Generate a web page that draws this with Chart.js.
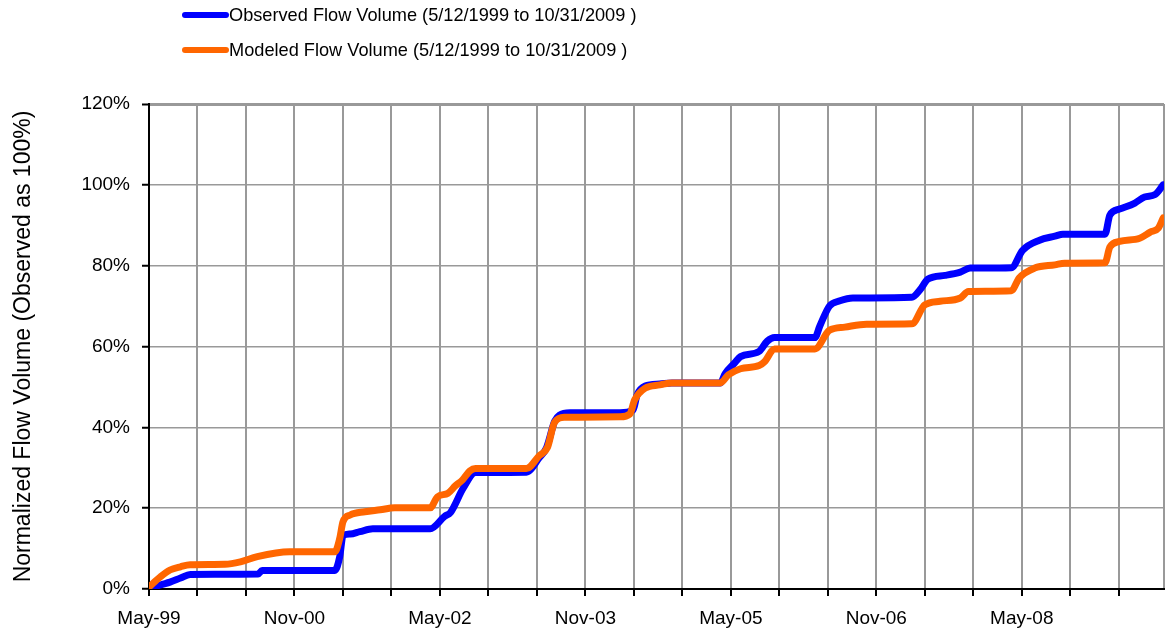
<!DOCTYPE html>
<html>
<head>
<meta charset="utf-8">
<script src="https://cdn.jsdelivr.net/npm/chart.js@4.4.0/dist/chart.umd.min.js"></script>
<style>
  html, body { margin: 0; padding: 0; background: #fff; }
  #wrap { width: 1165px; height: 634px; position: relative; }
</style>
</head>
<body>
<div id="wrap"><canvas id="flow-chart"></canvas></div>
<script>
// x values are months counted from May 1999, y values are % of total observed volume
const obsMonths = [0.1, 1.4, 2.6, 3.9, 5.1, 13.5, 14.0, 23.0, 23.6, 24.0, 24.9, 26.1, 27.7, 34.8,
  36.6, 37.3, 38.9, 40.4, 46.7, 48.3, 49.2, 50.2, 50.8, 52.1, 58.3, 59.9, 60.4, 61.4, 63.2, 64.7,
  70.7, 71.3, 72.5, 73.2, 75.5, 76.5, 77.4, 82.4, 83.0, 84.2, 85.5, 87.1, 94.4, 95.4, 96.4, 98.5,
  100.4, 101.6, 106.7, 108.1, 110.2, 112.1, 113.1, 118.3, 118.9, 120.1, 122.0, 123.2, 124.5, 125.5];
const obsValues = [0, 1.0, 1.7, 2.7, 3.6, 3.7, 4.6, 4.6, 8.0, 13.2, 13.6, 14.2, 14.9, 14.9,
  18.0, 18.9, 25.0, 28.8, 28.9, 32.5, 35.0, 41.5, 43.0, 43.6, 43.6, 44.3, 48.0, 50.2, 50.7, 51.0,
  51.0, 53.3, 56.0, 57.5, 58.8, 61.3, 62.2, 62.2, 65.0, 70.0, 71.3, 72.0, 72.2, 74.0, 76.7, 77.6,
  78.4, 79.4, 79.5, 83.8, 86.3, 87.3, 87.8, 87.8, 92.5, 94.0, 95.5, 97.0, 97.6, 100];

const modMonths = [0.0, 1.4, 2.6, 3.9, 5.1, 9.4, 11.3, 13.4, 17.4, 23.0, 23.6, 24.0, 24.9, 26.7,
  28.6, 30.4, 34.8, 35.7, 37.0, 37.9, 38.8, 39.7, 40.4, 46.7, 48.3, 49.3, 50.2, 51.4, 58.3, 59.5,
  60.1, 61.4, 63.2, 64.7, 70.7, 71.7, 73.2, 75.5, 76.2, 77.4, 82.4, 84.2, 86.1, 88.8, 94.4, 96.0,
  97.9, 100.4, 101.4, 106.7, 107.7, 109.6, 112.1, 113.3, 118.3, 118.9, 120.1, 122.6, 123.9, 124.9, 125.5];
const modValues = [0.5, 3.0, 4.7, 5.5, 6.0, 6.1, 6.7, 8.0, 9.2, 9.2, 12.5, 16.6, 18.3, 19.1,
  19.6, 20.1, 20.1, 22.8, 23.7, 25.5, 27.0, 29.2, 29.8, 29.8, 33.0, 35.0, 41.3, 42.5, 42.6, 43.3,
  46.8, 49.7, 50.5, 51.0, 51.0, 53.0, 54.5, 55.3, 56.3, 59.4, 59.4, 64.0, 64.8, 65.5, 65.6, 70.3,
  71.2, 72.0, 73.6, 73.8, 77.0, 79.4, 80.2, 80.6, 80.7, 84.6, 86.0, 86.8, 88.3, 89.3, 91.8];

const seriesLabels = [
  "Observed Flow Volume (5/12/1999 to 10/31/2009 )",
  "Modeled Flow Volume (5/12/1999 to 10/31/2009 )",
];
const seriesColors = ["#0000FF", "#FF6600"];

// labelled every 18 months, gridlines every 6
const xTickLabels = ["May-99", "Nov-00", "May-02", "Nov-03", "May-05", "Nov-06", "May-08"];
const xGridStep = 6;
const xLabelStep = 18;
const xEnd = 125.6; // end of Oct 2009
const yTicks = [0, 20, 40, 60, 80, 100, 120];

const FONT = '"Liberation Sans", Arial, sans-serif';

function toPoints(xs, ys) {
  return xs.map((x, i) => ({ x: x, y: ys[i] }));
}

// two-row legend above the plot
const flowLegend = {
  id: "flowLegend",
  afterDraw(chart) {
    const ctx = chart.ctx;
    chart.data.datasets.forEach((ds, i) => {
      const y = 15 + i * 35;
      ctx.save();
      ctx.strokeStyle = ds.borderColor;
      ctx.lineWidth = 6;
      ctx.lineCap = "round";
      ctx.beginPath();
      ctx.moveTo(185, y);
      ctx.lineTo(226, y);
      ctx.stroke();
      ctx.fillStyle = "#000";
      ctx.font = "18.2px " + FONT;
      ctx.textBaseline = "middle";
      ctx.fillText(ds.label, 229, y + 1);
      ctx.restore();
    });
  },
};

new Chart(document.getElementById("flow-chart"), {
  type: "line",
  data: {
    datasets: [
      {
        label: seriesLabels[0],
        data: toPoints(obsMonths, obsValues),
        borderColor: seriesColors[0],
        borderWidth: 7,
        order: 1,
      },
      {
        label: seriesLabels[1],
        data: toPoints(modMonths, modValues),
        borderColor: seriesColors[1],
        borderWidth: 7,
        order: 0,
      },
    ],
  },
  options: {
    responsive: true,
    maintainAspectRatio: false,
    animation: false,
    layout: { padding: { top: 104, right: 1, left: 0, bottom: 0 } },
    elements: {
      point: { radius: 0 },
      line: {
        cubicInterpolationMode: "monotone",
        borderCapStyle: "round",
        borderJoinStyle: "round",
      },
    },
    plugins: {
      legend: { display: false },
      tooltip: { enabled: false },
    },
    scales: {
      x: {
        type: "linear",
        min: 0,
        max: xEnd,
        afterBuildTicks(scale) {
          const ticks = [];
          for (let m = 0; m < xEnd; m += xGridStep) ticks.push({ value: m });
          ticks.push({ value: xEnd });
          scale.ticks = ticks;
        },
        afterFit(scale) {
          scale.height = 45;
          scale.paddingLeft = 0;
          scale.paddingRight = 0;
        },
        ticks: {
          autoSkip: false,
          maxRotation: 0,
          padding: 11,
          color: "#000",
          font: { family: FONT, size: 19 },
          callback: (v) => (v % xLabelStep === 0 ? xTickLabels[v / xLabelStep] : ""),
        },
        grid: {
          color: "#999",
          lineWidth: 2,
          tickLength: 7,
          tickWidth: 2,
          tickColor: (c) => (c.tick && c.tick.value >= xEnd ? "rgba(0,0,0,0)" : "#000"),
        },
        border: { color: "#000", width: 2 },
      },
      y: {
        min: 0,
        max: 120,
        afterBuildTicks(scale) {
          scale.ticks = yTicks.map((v) => ({ value: v }));
        },
        afterFit(scale) {
          scale.width = 149;
        },
        ticks: {
          padding: 12,
          color: "#000",
          font: { family: FONT, size: 19 },
          callback: (v) => v + "%",
        },
        grid: {
          color: "#999",
          lineWidth: (c) => (c.tick && c.tick.value === 120 ? 3 : 1.5),
          tickLength: 7,
          tickWidth: 2,
          tickColor: "#000",
        },
        border: { color: "#000", width: 2 },
        title: {
          display: true,
          text: "Normalized Flow Volume (Observed as 100%)",
          color: "#000",
          font: { family: FONT, size: 23 },
          padding: { top: 10, bottom: 0 },
        },
      },
    },
  },
  plugins: [flowLegend],
});
</script>
</body>
</html>
